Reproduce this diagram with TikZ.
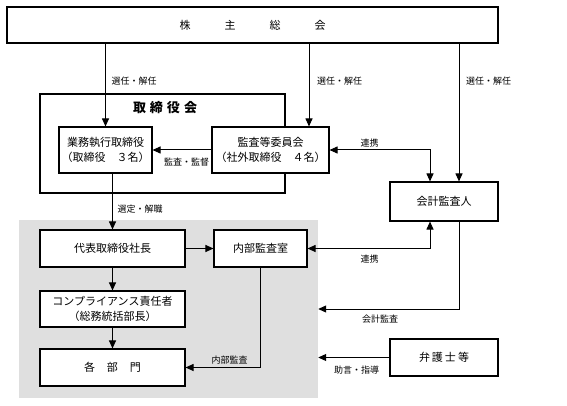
\documentclass[tikz,border=0pt]{standalone}
\usepackage{fontspec}
\setmainfont{Noto Sans CJK JP}
\usetikzlibrary{arrows.meta}
\tikzset{
  box/.style={draw, line width=1.1pt, fill=white, inner sep=0pt, align=center, font=\fontsize{11}{15}\selectfont},
  frame/.style={draw, line width=1.1pt, inner sep=0pt},
  zone/.style={fill=gray!25, inner sep=0pt},
  arr/.style={line width=1pt, -{Triangle[length=8pt,width=7pt]}},
  darr/.style={line width=1pt, {Triangle[length=8pt,width=7pt]}-{Triangle[length=8pt,width=7pt]}},
  lbl/.style={inner sep=0pt, font=\fontsize{9}{11}\selectfont}
}
\begin{document}
\begin{tikzpicture}[x=1pt, y=-1pt]
  \useasboundingbox (0,0) rectangle (567,406);
  \node[zone, minimum width=299pt, minimum height=178pt] (shikko) at (168.5,309) {};
  \node[frame, minimum width=245pt, minimum height=99pt] (torikai) at (162.5,143.5) {};
  \node[inner sep=0pt, font=\fontsize{13}{15}\selectfont\bfseries] (torikaititle) at (165,108) {取\hspace{4pt}締\hspace{4pt}役\hspace{4pt}会};

  \node[box, minimum width=491pt, minimum height=36pt] (soukai) at (252.5,25) {株\hspace{34pt}主\hspace{34pt}総\hspace{34pt}会};
  \node[box, minimum width=93pt, minimum height=46pt] (gyomu) at (105.5,150) {業務執行取締役\\（取締役　３名）};
  \node[box, minimum width=117pt, minimum height=46pt] (kansa) at (270.5,150) {監査等委員会\\（社外取締役　４名）};
  \node[box, minimum width=108pt, minimum height=39pt] (kaikei) at (444,201.5) {会計監査人};
  \node[box, minimum width=145pt, minimum height=37pt] (daihyo) at (112.5,248.5) {代表取締役社長};
  \node[box, minimum width=93pt, minimum height=37pt] (naibu) at (260.5,248.5) {内部監査室};
  \node[box, minimum width=145pt, minimum height=36pt] (comp) at (112.5,309) {コンプライアンス責任者\\（総務統括部長）};
  \node[box, minimum width=145pt, minimum height=37pt] (kakubu) at (112.5,367.5) {各\hspace{12pt}部\hspace{12pt}門};
  \node[box, minimum width=108pt, minimum height=37pt] (bengo) at (444,357.5) {弁\hspace{2pt}護\hspace{2pt}士\hspace{2pt}等};

  \draw[arr] (gyomu |- soukai.south) -- (gyomu);
  \draw[arr] ([xshift=38.5pt]kansa.north |- soukai.south) -- ([xshift=38.5pt]kansa.north);
  \draw[arr] ([xshift=15pt]kaikei.north |- soukai.south) -- ([xshift=15pt]kaikei.north);
  \draw[arr] (kansa) -- (gyomu);
  \draw[darr] (kansa.east) -| ([xshift=-14pt]kaikei.north);
  \draw[arr] (daihyo |- gyomu.south) -- (daihyo);
  \draw[arr] (daihyo) -- (naibu);
  \draw[darr] (naibu.east) -| ([xshift=-14pt]kaikei.south);
  \draw[arr] ([xshift=15pt]kaikei.south) |- (shikko.east);
  \draw[arr] (daihyo) -- (comp);
  \draw[arr] (comp) -- (kakubu);
  \draw[arr] (naibu.south) |- (kakubu.east);
  \draw[arr] (bengo.west) -- (bengo.west -| shikko.east);

  \node[lbl] (sennin1) at (134,81) {選任・解任};
  \node[lbl] (sennin2) at (339.5,81) {選任・解任};
  \node[lbl] (sennin3) at (488.5,81) {選任・解任};
  \node[lbl] (kantoku) at (186.5,162) {監査・監督};
  \node[lbl] (renkei1) at (369.5,143) {連携};
  \node[lbl] (sentei) at (140,209) {選定・解職};
  \node[lbl] (renkei2) at (369.5,259) {連携};
  \node[lbl] (kaikeikansa) at (380,319) {会計監査};
  \node[lbl] (naibukansa) at (229.5,360.5) {内部監査};
  \node[lbl] (jogen) at (356.5,370) {助言・指導};
\end{tikzpicture}
\end{document}
